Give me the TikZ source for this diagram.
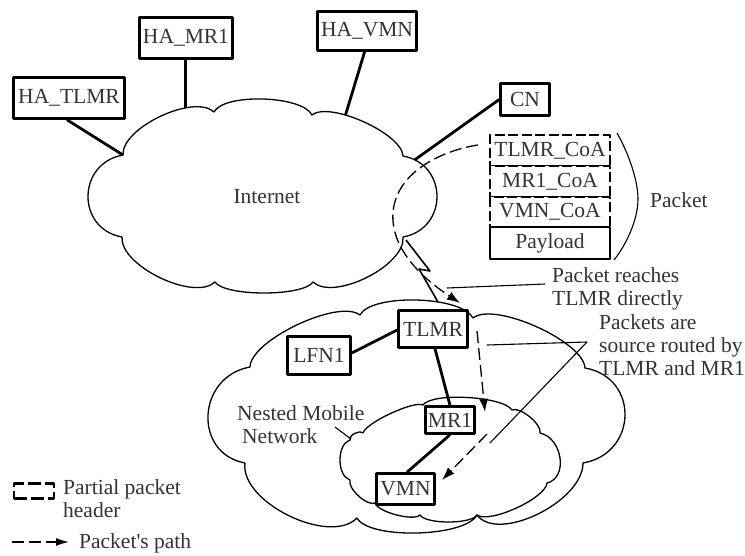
\documentclass[tikz,border=0pt]{standalone}
\usepackage{fontspec}
\setmainfont{Liberation Serif}[Ligatures=TeXOff]
\usetikzlibrary{arrows.meta}
\newcommand\fs{\fontsize{21.5}{23}\selectfont}
\newcommand\bmp[6]{.. controls ({#1+1.3333*(#5)+0.1*((#3)-(#1))},{#2+1.3333*(#6)+0.1*((#4)-(#2))}) and ({#3+1.3333*(#5)-0.1*((#3)-(#1))},{#4+1.3333*(#6)-0.1*((#4)-(#2))}) .. (#3,#4)}
\definecolor{txt}{gray}{0.2}
\tikzset{
  box/.style={draw, line width=2.6pt, fill=white, inner sep=0pt, text=txt, font=\fs},
  hdr/.style={box, dash pattern=on 10pt off 3.5pt},
  lbl/.style={inner sep=0pt, text=txt, font=\fs, align=left},
  cloudline/.style={line width=1.3pt},
  link/.style={line width=2.8pt},
  pointer/.style={line width=1.1pt},
  route/.style={line width=1.3pt, dash pattern=on 12pt off 5pt, -{Latex[length=13pt,width=9pt]}},
}
\begin{document}
\begin{tikzpicture}[x=1pt,y=-1pt,line join=round]
\useasboundingbox (0,0) rectangle (745,555);
% Internet cloud
\draw[cloudline] (122,237) \bmp{122}{237}{123}{155}{-34.5}{0} \bmp{123}{155}{214}{112}{-8.1}{-17.2}
  \bmp{214}{112}{312}{115}{0}{-14.5} \bmp{312}{115}{403}{156}{6.2}{-13.7}
  \bmp{403}{156}{403}{237}{34}{0} \bmp{403}{237}{313}{282}{8.9}{17.9}
  \bmp{313}{282}{215}{282}{0}{11} \bmp{215}{282}{122}{237}{-8.7}{18.1};
\coordinate (c1) at (123,155);
\coordinate (cmr) at (185.3,107.9);
\coordinate (cvmn) at (345.5,115);
\coordinate (ccn) at (414.5,160);
\coordinate (bolt0) at (406,240);
\node[lbl] (internet) at (267,197) {Internet};
% outer mobile cloud
\draw[cloudline] (245,463) \bmp{245}{463}{250}{367}{-39.5}{0} \bmp{250}{367}{360}{315}{-7.7}{-16.3}
  \bmp{360}{315}{473}{318}{0}{-16.5} \bmp{473}{318}{585}{368}{7.3}{-16.4}
  \bmp{585}{368}{583}{463}{41}{0} \bmp{583}{463}{477}{515}{8}{25}
  \bmp{477}{515}{357}{518}{0}{16.5} \bmp{357}{518}{245}{463}{-12.3}{25.1};
\coordinate (bolt3) at (438,302);
% inner nested cloud
\draw[cloudline] (350,480) \bmp{350}{480}{350}{440}{-10}{0} \bmp{350}{440}{363}{433}{-2}{-3}
  \bmp{363}{433}{423}{405}{-2.5}{-5.5} \bmp{423}{405}{512}{410}{0}{-10}
  \bmp{512}{410}{540}{433}{3.8}{-4.6} \bmp{540}{433}{547}{483}{16.5}{0}
  \bmp{547}{483}{477}{515}{4.2}{9.1} \bmp{477}{515}{420}{515}{0}{7}
  \bmp{420}{515}{375}{503}{-1.5}{5.8} \bmp{375}{503}{350}{480}{-4}{4.4};
\coordinate (inner) at (351,439);
% boxes
\node[box, minimum width=111pt, minimum height=41pt] (hatlmr) at (69,98) {HA\_TLMR};
\node[box, minimum width=93pt, minimum height=41pt] (hamr1) at (186,38) {HA\_MR1};
\node[box, minimum width=99pt, minimum height=39pt] (havmn) at (367,31) {HA\_VMN};
\node[box, minimum width=49pt, minimum height=32pt] (cn) at (525,99.5) {CN};
% links to internet
\draw[link] (hatlmr.south) ++(-2,0) coordinate (t0) (t0) -- (c1);
\draw[link] (hamr1.south -| cmr) coordinate (m0) (m0) -- (cmr);
\draw[link] (365,50.5) coordinate (v0) (v0) -- (cvmn);
\draw[link] (cn.west) -- (ccn);
% packet stack
\node[hdr, minimum width=120pt, minimum height=31pt] (h1) at (550,150.5) {TLMR\_CoA};
\node[hdr, minimum width=120pt, minimum height=31pt] (h2) at (550,181.5) {MR1\_CoA};
\node[hdr, minimum width=120pt, minimum height=30pt] (h3) at (550,212) {VMN\_CoA};
\node[box, minimum width=120pt, minimum height=32pt] (pl) at (550,243) {Payload};
\coordinate (br1) at (617,133);
\coordinate (br2) at (638,199);
\coordinate (br3) at (614,260);
\draw[pointer] (br1) .. controls (628,152) and (638,180) .. (br2) .. controls (638,220) and (626,245) .. (br3);
\node[lbl, anchor=west] (packet) at (650,200) {Packet};
% lightning link
\coordinate (bolt1) at (430,271);
\coordinate (bolt2) at (419,269);
\draw[line width=1.6pt] (bolt0) -- (bolt1) -- (bolt2) -- (bolt3);
% mobile network boxes
\node[box, minimum width=69pt, minimum height=37pt] (tlmr) at (433,329) {TLMR};
\node[box, minimum width=63pt, minimum height=38pt] (lfn1) at (319,355.5) {LFN1};
\node[box, minimum width=49pt, minimum height=27pt] (mr1) at (450,420) {MR1};
\node[box, minimum width=58pt, minimum height=31pt] (vmn) at (405.5,489) {VMN};
\draw[link] (lfn1.east |- 0,353) coordinate (l0) (l0) -- (tlmr.west |- 0,330) coordinate (l1);
\draw[link] (tlmr.south -| 435,0) coordinate (t1) (t1) -- (mr1.north -| 450,0) coordinate (t2);
\draw[link] (mr1.south -| 450,0) coordinate (m1) (m1) -- (vmn.north -| 407,0) coordinate (m2);
% packet route
\coordinate (r0) at (478,145);
\coordinate (r1) at (393,212);
\coordinate (r2) at (460,303);
\draw[route] (r0) .. controls (445,150) and (397,170) .. (r1) .. controls (390,250) and (425,280) .. (r2);
\coordinate (r3) at (477,331);
\coordinate (r4) at (485,412);
\draw[route] (r3) -- (r4);
\coordinate (r5) at (487,434);
\coordinate (r6) at (442,480);
\draw[route] (r5) -- (r6);
% labels
\node[lbl, anchor=west] (reach) at (552,288.5) {Packet reaches\\TLMR directly};
\coordinate (q0) at (545,284);
\coordinate (q1) at (447,288);
\draw[pointer] (q0) -- (q1);
\node[lbl, anchor=west] (srcr) at (599,345.5) {Packets are\\source routed by\\TLMR and MR1};
\coordinate (s0) at (587,342);
\coordinate (s1) at (487,345);
\coordinate (s2) at (490,443);
\draw[pointer] (s1) -- (s0) -- (s2);
\node[lbl, anchor=west] (nested) at (237,424.5) {Nested Mobile\\\hspace*{5pt}Network};
\coordinate (n0) at (335,427);
\draw[pointer] (n0) -- (inner);
% legend
\node[hdr, line width=2.6pt, dash pattern=on 13pt off 4pt, minimum width=40pt, minimum height=15pt] (legbox) at (34,491) {};
\node[lbl, anchor=west] (legtxt) at (63,499) {Partial packet\\header};
\coordinate (la) at (12,542);
\coordinate (lb) at (69,542);
\draw[route, -{Latex[length=13pt,width=8pt]}] (la) -- (lb);
\node[lbl, anchor=west] (legpath) at (79,543) {Packet's path};
\end{tikzpicture}
\end{document}
